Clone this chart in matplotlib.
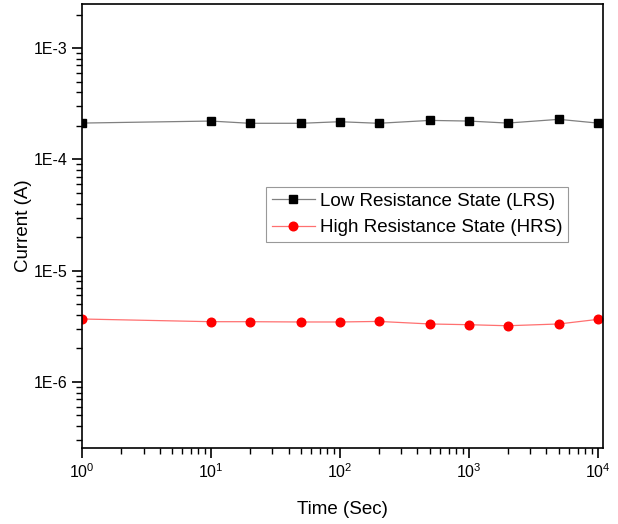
import math
import matplotlib
matplotlib.use('Agg')
import matplotlib.pyplot as plt
from matplotlib.ticker import LogLocator, FuncFormatter, NullFormatter

plt.rcParams['font.family'] = ['Liberation Sans', 'DejaVu Sans']

# Data
time_s = [1, 10, 20, 50, 100, 200, 500, 1000, 2000, 5000, 10000]
lrs_current = [2.12e-4, 2.21e-4, 2.11e-4, 2.11e-4, 2.18e-4, 2.11e-4,
               2.24e-4, 2.21e-4, 2.12e-4, 2.29e-4, 2.12e-4]
hrs_current = [3.68e-6, 3.48e-6, 3.48e-6, 3.46e-6, 3.46e-6, 3.50e-6,
               3.32e-6, 3.27e-6, 3.20e-6, 3.32e-6, 3.65e-6]

fig = plt.figure(figsize=(6.18, 5.24), dpi=100)
ax = fig.add_axes([0.1327, 0.145, 0.843, 0.847])

ax.plot(time_s, lrs_current, color='#808080', lw=0.9, marker='s',
        ms=5.5, mfc='black', mec='black', label='Low Resistance State (LRS)')
ax.plot(time_s, hrs_current, color='#ff7070', lw=0.9, marker='o',
        ms=6.2, mfc='red', mec='red', label='High Resistance State (HRS)')

ax.set_xscale('log')
ax.set_yscale('log')
ax.set_xlim(1, 1.1e4)
ax.set_ylim(2.55e-7, 2.48e-3)

ax.yaxis.set_major_locator(LogLocator(base=10, numticks=20))
ax.yaxis.set_major_formatter(FuncFormatter(lambda v, p: '1E%d' % round(math.log10(v))))
ax.yaxis.set_minor_locator(LogLocator(base=10, subs=range(2, 10), numticks=20))
ax.yaxis.set_minor_formatter(NullFormatter())
ax.xaxis.set_major_locator(LogLocator(base=10, numticks=20))
ax.xaxis.set_minor_locator(LogLocator(base=10, subs=range(2, 10), numticks=20))
ax.xaxis.set_minor_formatter(NullFormatter())

ax.tick_params(which='major', direction='out', length=7, width=1.2, labelsize=11.5)
ax.tick_params(which='minor', direction='out', length=4, width=1.0)
ax.tick_params(top=False, right=False, which='both')
for s in ax.spines.values():
    s.set_linewidth(1.2)

ax.set_xlabel('Time (Sec)', fontsize=13.5, labelpad=14)
ax.set_ylabel('Current (A)', fontsize=13.5, labelpad=1)

leg = ax.legend(loc='upper left', bbox_to_anchor=(0.353, 0.588), fontsize=13.5,
                frameon=True, fancybox=False, edgecolor='#808080',
                borderpad=0.3, handlelength=2.3, labelspacing=0.5,
                handletextpad=0.3, borderaxespad=0)
leg.get_frame().set_linewidth(0.8)

fig.savefig('out.png', dpi=100)
